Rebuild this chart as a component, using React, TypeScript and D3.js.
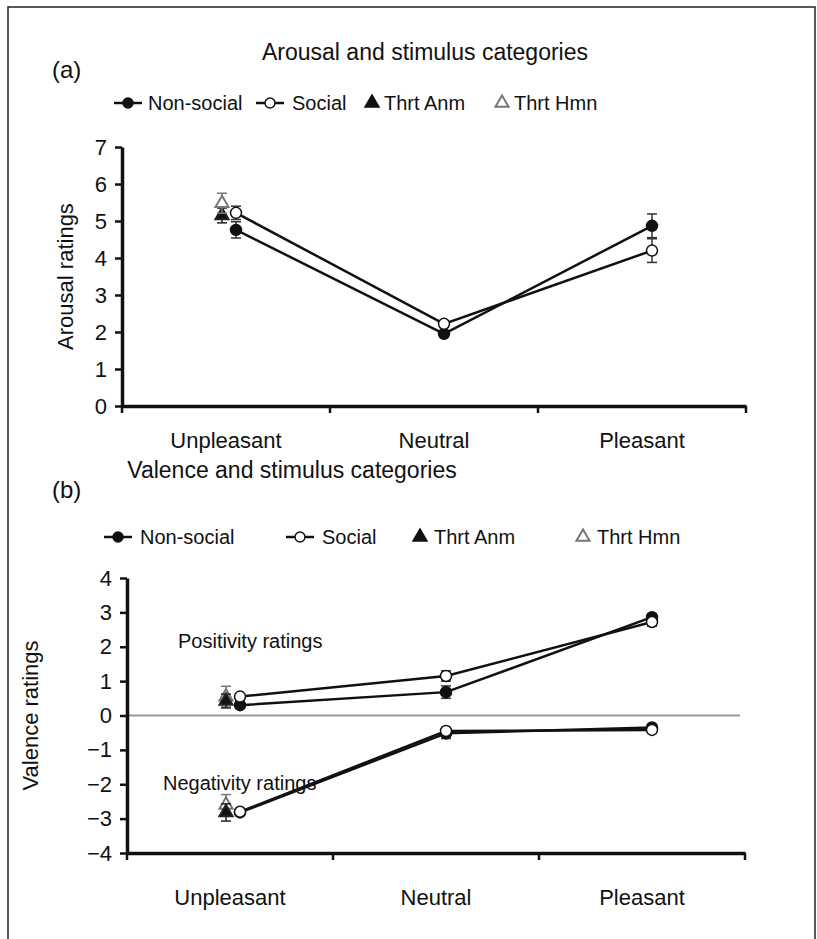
import React, { useEffect, useRef } from 'react';
import * as d3 from 'd3';

const categories = ['Unpleasant', 'Neutral', 'Pleasant'];

// panel (a): arousal
const arousalNonSocial = [4.76, 1.95, 4.87];
const arousalNonSocialErr = [0.22, 0.08, 0.32];
const arousalSocial = [5.22, 2.22, 4.2];
const arousalSocialErr = [0.18, 0.08, 0.32];
const arousalThrtAnm = [5.15];
const arousalThrtAnmErr = [0.2];
const arousalThrtHmn = [5.48];
const arousalThrtHmnErr = [0.27];
const arousalTicks = [0, 1, 2, 3, 4, 5, 6, 7];

// panel (b): valence
const positiveNonSocial = [0.3, 0.68, 2.86];
const positiveNonSocialErr = [0.08, 0.18, 0.1];
const positiveSocial = [0.55, 1.15, 2.72];
const positiveSocialErr = [0.08, 0.15, 0.12];
const positiveThrtAnm = [0.42];
const positiveThrtAnmErr = [0.2];
const positiveThrtHmn = [0.55];
const positiveThrtHmnErr = [0.3];
const negativeNonSocial = [-2.82, -0.52, -0.35];
const negativeNonSocialErr = [0.08, 0.15, 0.08];
const negativeSocial = [-2.8, -0.45, -0.42];
const negativeSocialErr = [0.08, 0.1, 0.08];
const negativeThrtAnm = [-2.82];
const negativeThrtAnmErr = [0.25];
const negativeThrtHmn = [-2.6];
const negativeThrtHmnErr = [0.3];
const valenceTicks = [-4, -3, -2, -1, 0, 1, 2, 3, 4];

const legendItems = ['Non-social', 'Social', 'Thrt Anm', 'Thrt Hmn'];

const FONT = '"Liberation Sans", Arial, Helvetica, sans-serif';

function App() {
  const ref = useRef<SVGSVGElement | null>(null);

  useEffect(() => {
    const svg = d3.select(ref.current);
    svg.selectAll('*').remove();
    svg.attr('font-family', FONT);

    // outer frame
    svg.append('path')
      .attr('d', 'M8,939V7H815V939')
      .attr('fill', 'none')
      .attr('stroke', '#222')
      .attr('stroke-width', 1.5);

    const tri = d3.symbol().type(d3.symbolTriangle).size(75);

    const drawLegend = (y: number, xs: number[][]) => {
      const g = svg.append('g');
      legendItems.forEach((name, i) => {
        const [mx, tx] = xs[i];
        if (i < 2) {
          g.append('line').attr('x1', mx - 14).attr('x2', mx + 14).attr('y1', y).attr('y2', y)
            .attr('stroke', '#111').attr('stroke-width', 2.5);
          g.append('circle').attr('cx', mx).attr('cy', y).attr('r', 5)
            .attr('fill', i === 0 ? '#111' : '#fff').attr('stroke', '#111').attr('stroke-width', 1.5);
        } else {
          g.append('path').attr('d', tri).attr('transform', `translate(${mx},${y})`)
            .attr('fill', i === 2 ? '#111' : '#fff')
            .attr('stroke', i === 2 ? '#111' : '#777').attr('stroke-width', 2);
        }
        g.append('text').attr('x', tx).attr('y', y + 7).attr('font-size', 20).attr('fill', '#111').text(name);
      });
    };

    const drawPanel = (opts: {
      y: d3.ScaleLinear<number, number>;
      x: d3.ScaleBand<string>;
      ticks: number[];
      axisX: number;
      baseY: number;
      labelPad: number;
      yTitle: string;
      yTitleX: number;
    }) => {
      const { y, x, ticks, axisX, baseY, labelPad, yTitle, yTitleX } = opts;
      const bw = x.bandwidth();
      const g = svg.append('g');

      const ya = g.append('g')
        .attr('transform', `translate(${axisX},0)`)
        .call(d3.axisLeft(y).tickValues(ticks).tickFormat(d3.format('d')).tickSize(7).tickSizeOuter(0).tickPadding(8));
      ya.select('.domain').attr('stroke', '#111').attr('stroke-width', 3.5);
      ya.selectAll('.tick line').attr('stroke', '#111').attr('stroke-width', 2.5);
      ya.selectAll('.tick text').attr('font-size', 22).attr('font-family', FONT).attr('fill', '#111');

      const xa = g.append('g')
        .attr('transform', `translate(0,${baseY})`)
        .call(d3.axisBottom(x).tickSize(0).tickPadding(labelPad));
      xa.select('.domain').attr('stroke', '#111').attr('stroke-width', 3.5);
      xa.selectAll('.tick text').attr('font-size', 22).attr('font-family', FONT).attr('fill', '#111');
      const edges = categories.map((c) => x(c) as number).concat([x.range()[1]]);
      xa.selectAll('.edge').data(edges).join('line')
        .attr('x1', (d) => d).attr('x2', (d) => d).attr('y1', 0).attr('y2', 7)
        .attr('stroke', '#111').attr('stroke-width', 2.5);

      g.append('text')
        .attr('transform', `translate(${yTitleX},${(y.range()[0] + y.range()[1]) / 2}) rotate(-90)`)
        .attr('text-anchor', 'middle').attr('font-size', 22).attr('fill', '#111').text(yTitle);

      const cx = (c: string) => (x(c) as number) + bw / 2 + 10;
      const tx = (c: string) => (x(c) as number) + bw / 2 - 4;

      const series = (vals: number[], errs: number[], filled: boolean) => {
        const pts = vals.map((v, i) => ({ c: categories[i], v, e: errs[i] }));
        const line = d3.line<{ c: string; v: number }>().x((d) => cx(d.c)).y((d) => y(d.v));
        g.append('path').datum(pts).attr('d', line).attr('fill', 'none')
          .attr('stroke', '#111').attr('stroke-width', 2.5);
        const eb = g.append('g').selectAll('g').data(pts).join('g');
        eb.append('line').attr('x1', (d) => cx(d.c)).attr('x2', (d) => cx(d.c))
          .attr('y1', (d) => y(d.v - d.e)).attr('y2', (d) => y(d.v + d.e))
          .attr('stroke', '#333').attr('stroke-width', 1.5);
        [-1, 1].forEach((s) => {
          eb.append('line').attr('x1', (d) => cx(d.c) - 5).attr('x2', (d) => cx(d.c) + 5)
            .attr('y1', (d) => y(d.v + s * d.e)).attr('y2', (d) => y(d.v + s * d.e))
            .attr('stroke', '#333').attr('stroke-width', 1.5);
        });
        g.append('g').selectAll('circle').data(pts).join('circle')
          .attr('cx', (d) => cx(d.c)).attr('cy', (d) => y(d.v)).attr('r', 5.5)
          .attr('fill', filled ? '#111' : '#fff').attr('stroke', '#111').attr('stroke-width', 1.5);
      };

      const threat = (vals: number[], errs: number[], filled: boolean) => {
        const pts = vals.map((v, i) => ({ c: categories[i], v, e: errs[i] }));
        const col = filled ? '#222' : '#777';
        const m = g.append('g').selectAll('g').data(pts).join('g');
        m.append('line').attr('x1', (d) => tx(d.c)).attr('x2', (d) => tx(d.c))
          .attr('y1', (d) => y(d.v - d.e)).attr('y2', (d) => y(d.v + d.e))
          .attr('stroke', col).attr('stroke-width', 1.5);
        [-1, 1].forEach((s) => {
          m.append('line').attr('x1', (d) => tx(d.c) - 5).attr('x2', (d) => tx(d.c) + 5)
            .attr('y1', (d) => y(d.v + s * d.e)).attr('y2', (d) => y(d.v + s * d.e))
            .attr('stroke', col).attr('stroke-width', 1.5);
        });
        m.append('path').attr('d', tri)
          .attr('transform', (d) => `translate(${tx(d.c)},${y(d.v)})`)
          .attr('fill', filled ? '#111' : '#fff').attr('stroke', col).attr('stroke-width', 2);
      };

      return { g, series, threat };
    };

    // panel (a)
    svg.append('text').attr('x', 52).attr('y', 78).attr('font-size', 24).attr('fill', '#111').text('(a)');
    svg.append('text').attr('x', 425).attr('y', 60).attr('text-anchor', 'middle').attr('font-size', 23)
      .attr('fill', '#111').text('Arousal and stimulus categories');
    drawLegend(103, [[128, 148], [270, 292], [372, 384], [502, 514]]);

    const xA = d3.scaleBand().domain(categories).range([122, 746]);
    const yA = d3.scaleLinear().domain([0, 7]).range([406, 147]);
    const pa = drawPanel({ y: yA, x: xA, ticks: arousalTicks, axisX: 122, baseY: 406, labelPad: 26, yTitle: 'Arousal ratings', yTitleX: 73 });
    pa.threat(arousalThrtAnm, arousalThrtAnmErr, true);
    pa.threat(arousalThrtHmn, arousalThrtHmnErr, false);
    pa.series(arousalNonSocial, arousalNonSocialErr, true);
    pa.series(arousalSocial, arousalSocialErr, false);

    // panel (b)
    svg.append('text').attr('x', 52).attr('y', 498).attr('font-size', 24).attr('fill', '#111').text('(b)');
    svg.append('text').attr('x', 292).attr('y', 478).attr('text-anchor', 'middle').attr('font-size', 23)
      .attr('fill', '#111').text('Valence and stimulus categories');
    drawLegend(537, [[118, 140], [300, 322], [420, 434], [583, 597]]);

    const xB = d3.scaleBand().domain(categories).range([127, 745]);
    const yB = d3.scaleLinear().domain([-4, 4]).range([853, 578]);
    svg.append('line').attr('x1', 127).attr('x2', 740).attr('y1', yB(0)).attr('y2', yB(0))
      .attr('stroke', '#999').attr('stroke-width', 2);
    const pb = drawPanel({ y: yB, x: xB, ticks: valenceTicks, axisX: 127, baseY: 853, labelPad: 36, yTitle: 'Valence ratings', yTitleX: 38 });
    pb.threat(positiveThrtHmn, positiveThrtHmnErr, false);
    pb.threat(positiveThrtAnm, positiveThrtAnmErr, true);
    pb.threat(negativeThrtHmn, negativeThrtHmnErr, false);
    pb.threat(negativeThrtAnm, negativeThrtAnmErr, true);
    pb.series(positiveNonSocial, positiveNonSocialErr, true);
    pb.series(positiveSocial, positiveSocialErr, false);
    pb.series(negativeNonSocial, negativeNonSocialErr, true);
    pb.series(negativeSocial, negativeSocialErr, false);

    svg.append('text').attr('x', 178).attr('y', 648).attr('font-size', 20).attr('fill', '#111').text('Positivity ratings');
    svg.append('text').attr('x', 163).attr('y', 790).attr('font-size', 20).attr('fill', '#111').text('Negativity ratings');
  }, []);

  return (
    <svg ref={ref} width={817} height={939}
      style={{ position: 'absolute', left: 0, top: 0, background: '#fff' }} />
  );
}

export default App;
